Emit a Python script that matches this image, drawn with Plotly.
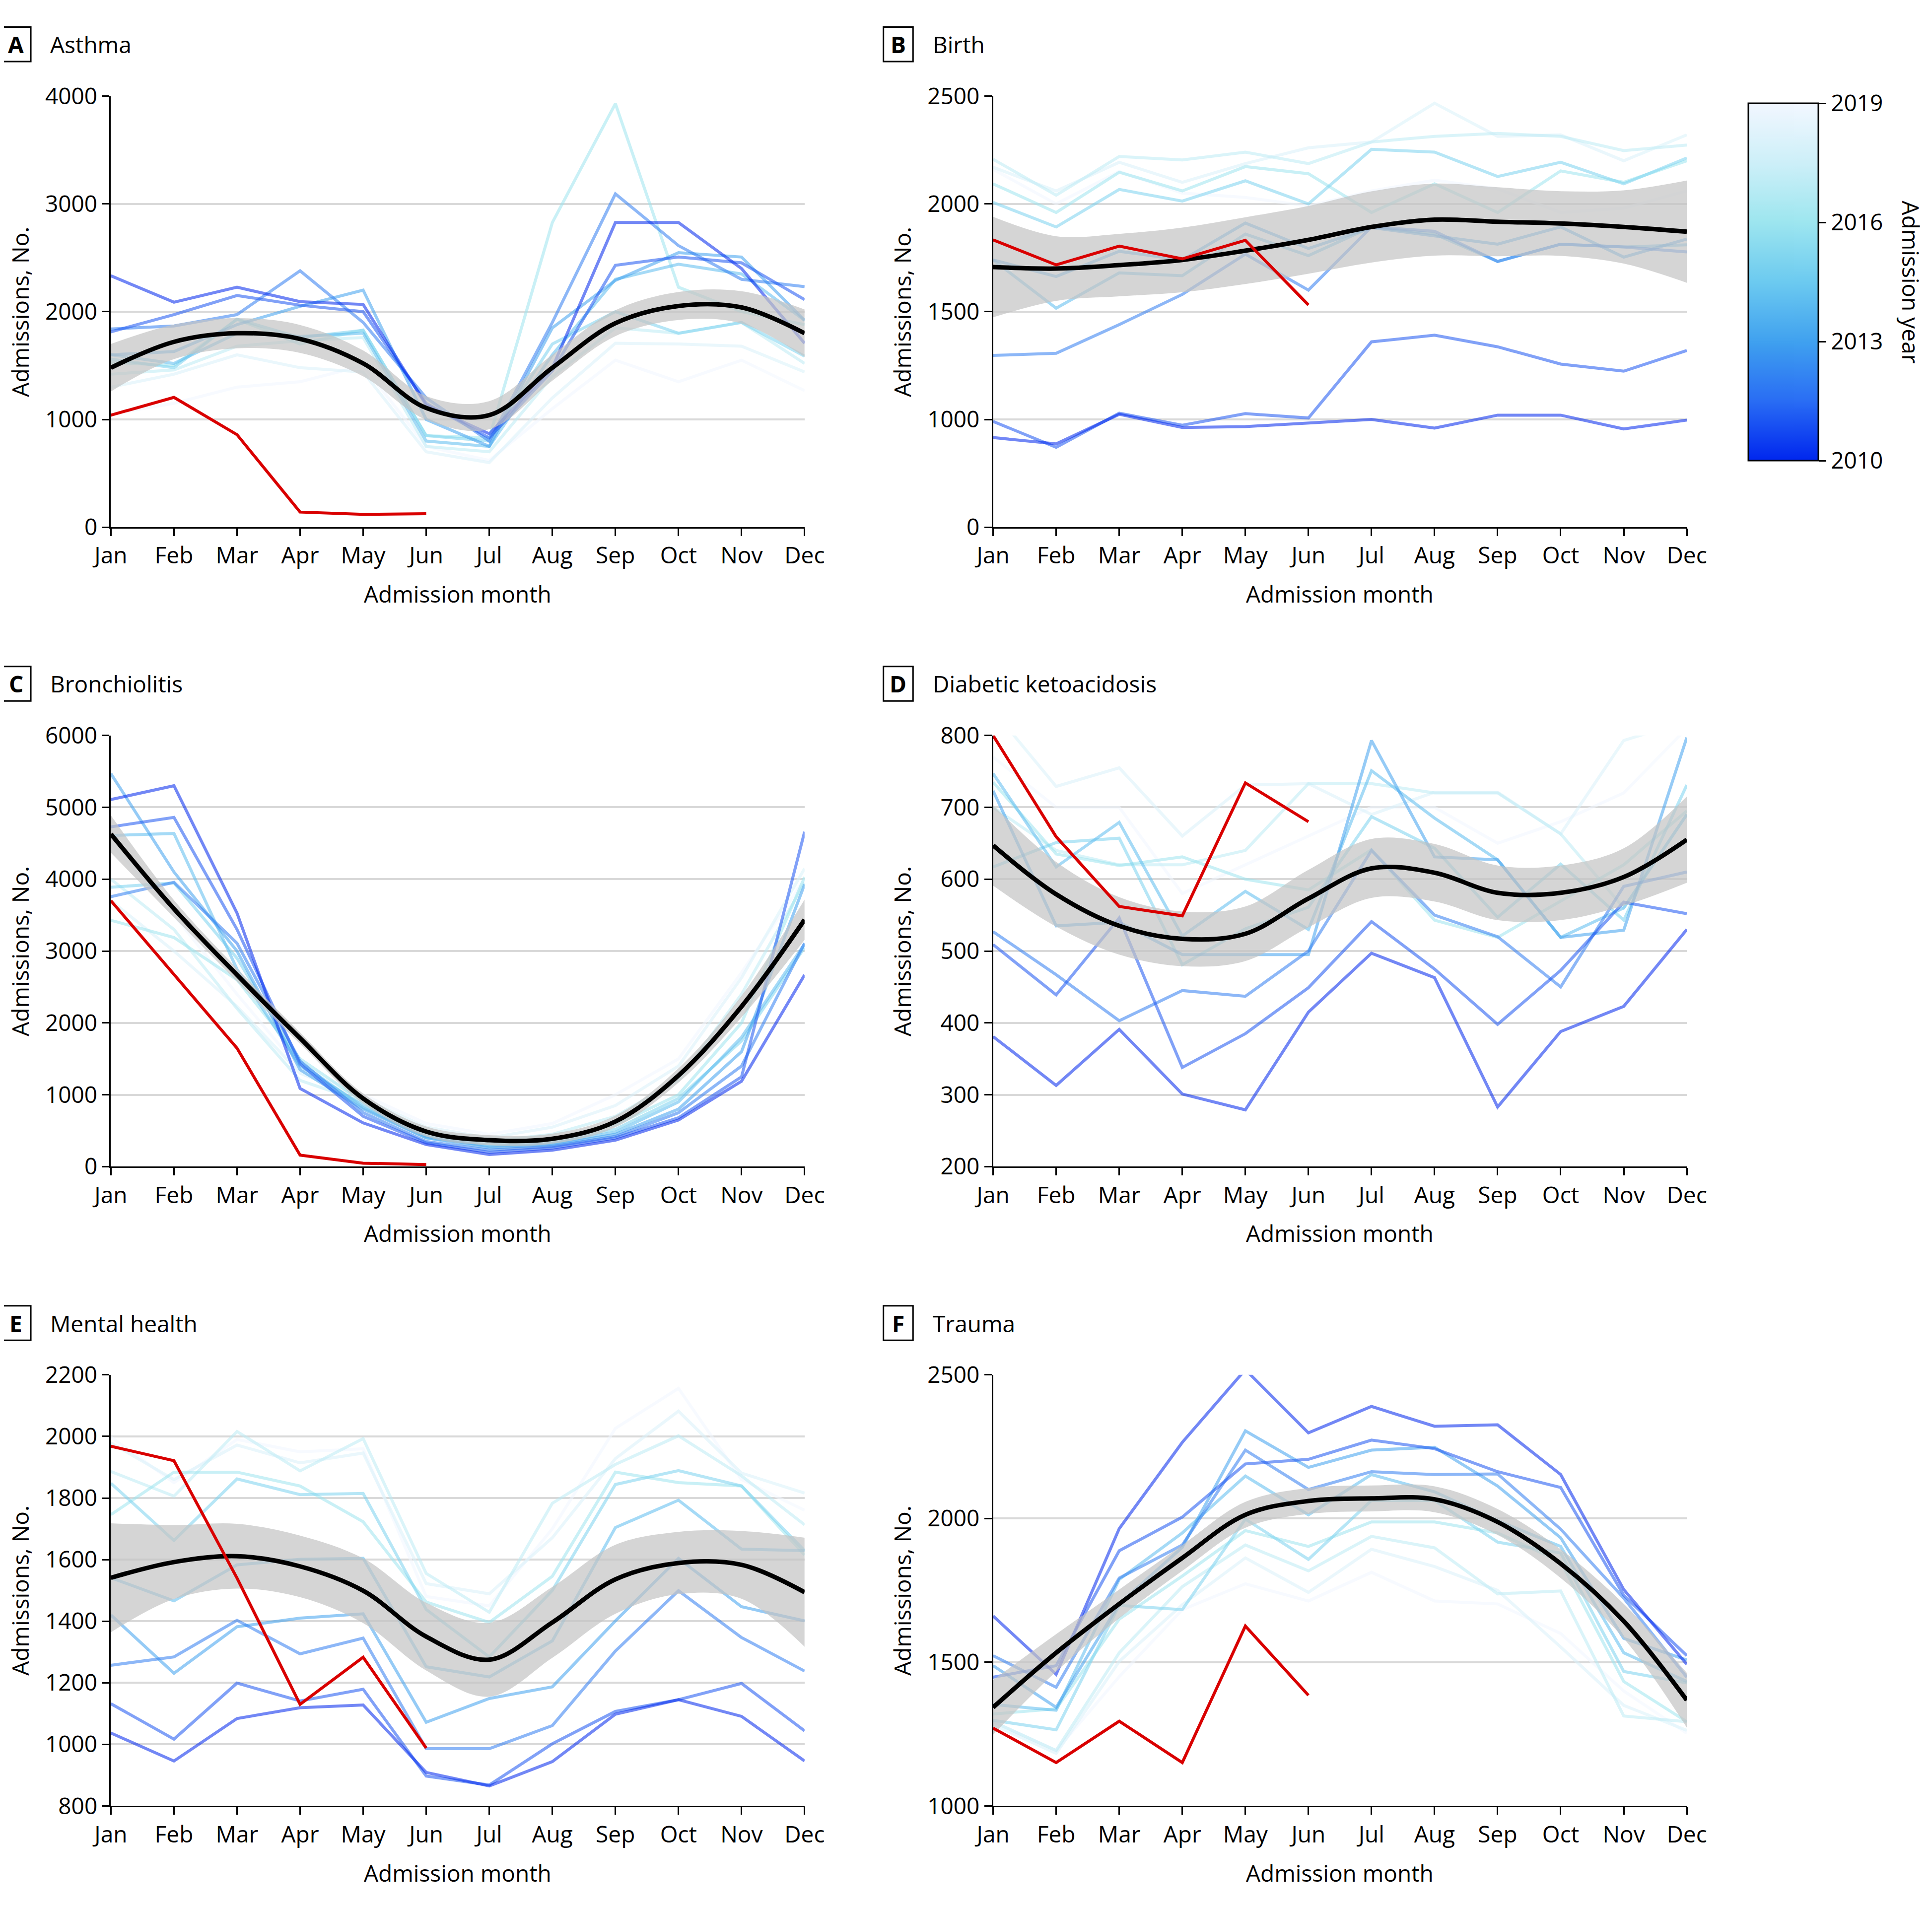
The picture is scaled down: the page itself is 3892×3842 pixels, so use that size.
import plotly.graph_objects as go
from plotly.colors import sample_colorscale

MONTHS = ["Jan", "Feb", "Mar", "Apr", "May", "Jun",
          "Jul", "Aug", "Sep", "Oct", "Nov", "Dec"]
MONTHS_2020 = MONTHS[:6]
YEARS = list(range(2010, 2020))

# --- A Asthma: one row per year 2010..2019
ASTHMA_YEARS = [
    [2333, 2088, 2227, 2093, 2067, 1133, 867, 1480, 2827, 2827, 2400, 1707],
    [1813, 1973, 2150, 2060, 2000, 1150, 830, 1450, 2430, 2507, 2453, 2112],
    [1840, 1867, 1973, 2379, 1900, 1200, 800, 1900, 3093, 2613, 2300, 2232],
    [1600, 1630, 1880, 2050, 2200, 1000, 750, 1850, 2290, 2547, 2507, 1920],
    [1600, 1520, 1800, 1770, 1800, 800, 750, 1600, 2300, 2440, 2350, 1920],
    [1560, 1480, 1930, 1760, 1827, 850, 800, 1700, 2000, 1800, 1900, 1587],
    [1530, 1500, 1930, 1700, 1830, 850, 830, 2827, 3930, 2227, 2000, 1880],
    [1420, 1460, 1680, 1730, 1760, 750, 700, 1400, 1850, 1800, 1900, 1520],
    [1300, 1420, 1600, 1480, 1440, 700, 600, 1200, 1707, 1700, 1680, 1440],
    [1050, 1150, 1300, 1350, 1500, 750, 620, 1100, 1550, 1350, 1550, 1267],
]
ASTHMA_2020 = [1040, 1205, 859, 141, 120, 125]
ASTHMA_MEAN = [1480, 1720, 1800, 1747, 1520, 1107, 1040, 1480, 1893, 2053, 2040, 1800]
ASTHMA_HALF = [220, 160, 140, 130, 120, 110, 130, 120, 120, 130, 150, 220]

# --- B Birth
BIRTH_YEARS = [
    [916, 887, 1024, 963, 967, 983, 1000, 960, 1020, 1020, 956, 997],
    [991, 871, 1029, 973, 1027, 1007, 1360, 1391, 1337, 1257, 1224, 1320],
    [1297, 1307, 1440, 1580, 1767, 1600, 1893, 1873, 1733, 1813, 1800, 1777],
    [1740, 1663, 1780, 1740, 1911, 1793, 1890, 1853, 1813, 1893, 1753, 1837],
    [1740, 1516, 1680, 1667, 1860, 1760, 1893, 1860, 1733, 1813, 1800, 1810],
    [2007, 1893, 2067, 2013, 2107, 2000, 2253, 2240, 2127, 2193, 2093, 2213],
    [2093, 1960, 2147, 2060, 2173, 2140, 1960, 2093, 1960, 2153, 2100, 2200],
    [2207, 2040, 2220, 2204, 2240, 2187, 2287, 2313, 2327, 2313, 2247, 2273],
    [2170, 2060, 2193, 2100, 2187, 2260, 2287, 2467, 2313, 2320, 2200, 2320],
    [2160, 2000, 2150, 2050, 2030, 1990, 2060, 2110, 2070, 1960, 1980, 2060],
]
BIRTH_2020 = [1833, 1717, 1804, 1745, 1831, 1531]
BIRTH_MEAN = [1707, 1700, 1716, 1740, 1783, 1833, 1893, 1927, 1917, 1909, 1893, 1871]
BIRTH_HALF = [233, 150, 145, 150, 155, 157, 165, 167, 160, 150, 170, 237]

# --- C Bronchiolitis
BRONCH_YEARS = [
    [5108, 5300, 3528, 1088, 608, 308, 168, 228, 368, 648, 1188, 2668],
    [4728, 4860, 3300, 1428, 700, 330, 200, 260, 400, 680, 1250, 4660],
    [3756, 3956, 3108, 1468, 750, 350, 230, 280, 420, 750, 1400, 3108],
    [5468, 4100, 3000, 1348, 800, 400, 260, 300, 450, 800, 1600, 3928],
    [4608, 4636, 2748, 1400, 850, 420, 280, 320, 480, 900, 1800, 3100],
    [3888, 3948, 2900, 1450, 820, 400, 300, 340, 520, 950, 1750, 3050],
    [3428, 3188, 2600, 1500, 900, 450, 330, 380, 580, 1000, 2000, 4028],
    [4000, 3300, 2200, 1200, 900, 500, 350, 450, 700, 1200, 2400, 3950],
    [3700, 3000, 2228, 1300, 950, 550, 400, 550, 850, 1400, 2628, 4148],
    [4500, 3500, 2400, 1350, 1000, 600, 450, 600, 1000, 1500, 2700, 4000],
]
BRONCH_2020 = [3700, 2668, 1648, 160, 48, 28]
BRONCH_MEAN = [4628, 3588, 2668, 1788, 948, 488, 368, 388, 628, 1268, 2228, 3436]
BRONCH_HALF = [260, 120, 90, 80, 70, 70, 70, 70, 80, 100, 150, 280]

# --- D Diabetic ketoacidosis
DKA_YEARS = [
    [381, 313, 391, 301, 279, 415, 497, 463, 283, 388, 423, 530],
    [509, 439, 546, 338, 385, 449, 541, 475, 398, 473, 568, 552],
    [527, 467, 403, 445, 437, 500, 640, 550, 520, 450, 590, 610],
    [723, 535, 540, 495, 495, 495, 793, 631, 627, 519, 529, 797],
    [747, 617, 679, 521, 583, 530, 751, 685, 627, 519, 560, 690],
    [617, 651, 657, 481, 531, 561, 687, 643, 547, 621, 543, 731],
    [735, 635, 619, 631, 600, 585, 641, 543, 519, 569, 620, 695],
    [700, 640, 620, 620, 640, 733, 733, 720, 720, 663, 560, 690],
    [835, 729, 755, 660, 731, 733, 690, 721, 721, 663, 793, 820],
    [770, 700, 700, 580, 620, 660, 700, 700, 650, 680, 720, 810],
]
DKA_2020 = [800, 659, 562, 549, 734, 680]
DKA_MEAN = [647, 579, 535, 517, 524, 573, 615, 609, 581, 581, 603, 655]
DKA_HALF = [56, 45, 40, 38, 38, 40, 41, 40, 38, 38, 40, 60]

# --- E Mental health
MENTAL_YEARS = [
    [1037, 946, 1084, 1119, 1128, 909, 865, 944, 1098, 1145, 1091, 946],
    [1132, 1017, 1199, 1141, 1179, 897, 868, 1002, 1107, 1145, 1198, 1044],
    [1257, 1284, 1403, 1294, 1345, 986, 986, 1061, 1303, 1499, 1347, 1238],
    [1420, 1231, 1382, 1410, 1424, 1072, 1149, 1187, 1401, 1604, 1447, 1401],
    [1541, 1466, 1583, 1601, 1604, 1252, 1219, 1336, 1704, 1793, 1634, 1629],
    [1848, 1662, 1862, 1811, 1815, 1438, 1284, 1500, 1844, 1889, 1839, 1629],
    [1746, 1884, 1884, 1839, 1723, 1462, 1396, 1546, 1884, 1850, 1839, 1615],
    [1886, 1806, 2016, 1888, 1993, 1555, 1429, 1783, 1909, 2002, 1872, 1713],
    [1979, 1860, 1972, 1914, 1946, 1522, 1489, 1671, 1928, 2082, 1881, 1816],
    [1998, 1850, 1990, 1950, 1960, 1480, 1450, 1700, 2026, 2156, 1860, 1760],
]
MENTAL_2020 = [1968, 1921, 1540, 1130, 1283, 988]
MENTAL_MEAN = [1541, 1592, 1611, 1578, 1499, 1350, 1275, 1396, 1536, 1589, 1583, 1494]
MENTAL_HALF = [177, 120, 105, 100, 105, 110, 120, 115, 112, 101, 110, 177]

# --- F Trauma
TRAUMA_YEARS = [
    [1661, 1458, 1965, 2265, 2518, 2298, 2390, 2321, 2326, 2153, 1753, 1493],
    [1448, 1488, 1888, 2005, 2190, 2206, 2273, 2243, 2163, 2108, 1733, 1523],
    [1523, 1413, 1793, 1908, 2238, 2101, 2163, 2153, 2155, 1963, 1723, 1448],
    [1488, 1343, 1703, 1900, 2305, 2178, 2238, 2248, 2113, 1933, 1583, 1508],
    [1353, 1333, 1788, 1950, 2148, 2013, 2153, 2093, 1993, 1903, 1533, 1433],
    [1298, 1265, 1698, 1683, 1998, 1858, 2063, 2063, 1918, 1880, 1468, 1428],
    [1320, 1338, 1650, 1800, 1958, 1903, 1988, 1988, 1950, 1850, 1433, 1293],
    [1293, 1193, 1533, 1763, 1908, 1818, 1938, 1898, 1738, 1748, 1313, 1293],
    [1283, 1183, 1503, 1700, 1863, 1743, 1893, 1833, 1750, 1553, 1350, 1263],
    [1293, 1193, 1450, 1683, 1773, 1713, 1813, 1713, 1703, 1600, 1400, 1253],
]
TRAUMA_2020 = [1271, 1151, 1295, 1151, 1626, 1385]
TRAUMA_MEAN = [1343, 1533, 1703, 1863, 2013, 2061, 2070, 2067, 1988, 1843, 1643, 1368]
TRAUMA_HALF = [95, 65, 50, 45, 45, 45, 45, 45, 45, 50, 60, 95]

COLORSCALE = [
    [0.0, "#0026ee"], [0.17, "#2a6ef4"], [0.33, "#3fa0ef"],
    [0.5, "#6ccaf0"], [0.67, "#9ee6ef"], [0.83, "#cceff8"], [1.0, "#f2f7ff"],
]

FONT = "Open Sans"
FS = 46
W, H = 3892, 3842
RW, RH = 1568.0, 1548.0   # reference layout units
SX, SY = W / RW, H / RH
OFF = 8                   # page margin of the browser, in px


def px(x):
    return (x * SX - OFF) / W


def py(y):
    return 1 - (y * SY - OFF) / H


panels = [
    ("A", "Asthma", ASTHMA_YEARS, ASTHMA_2020, ASTHMA_MEAN, ASTHMA_HALF,
     [0, 4000], [0, 1000, 2000, 3000, 4000], None, 0, 0),
    ("B", "Birth", BIRTH_YEARS, BIRTH_2020, BIRTH_MEAN, BIRTH_HALF,
     [500, 2500], [500, 1000, 1500, 2000, 2500], ["0", "1000", "1500", "2000", "2500"], 1, 0),
    ("C", "Bronchiolitis", BRONCH_YEARS, BRONCH_2020, BRONCH_MEAN, BRONCH_HALF,
     [0, 6000], [0, 1000, 2000, 3000, 4000, 5000, 6000], None, 0, 1),
    ("D", "Diabetic ketoacidosis", DKA_YEARS, DKA_2020, DKA_MEAN, DKA_HALF,
     [200, 800], [200, 300, 400, 500, 600, 700, 800], None, 1, 1),
    ("E", "Mental health", MENTAL_YEARS, MENTAL_2020, MENTAL_MEAN, MENTAL_HALF,
     [800, 2200], [800, 1000, 1200, 1400, 1600, 1800, 2000, 2200], None, 0, 2),
    ("F", "Trauma", TRAUMA_YEARS, TRAUMA_2020, TRAUMA_MEAN, TRAUMA_HALF,
     [1000, 2500], [1000, 1500, 2000, 2500], None, 1, 2),
]

COL_X = [(90, 653), (806, 1369)]
ROW_Y = [(78, 428), (597, 947), (1116, 1466)]

year_colors = sample_colorscale(COLORSCALE, [(y - 2010) / 9 for y in YEARS])

fig = go.Figure()
annotations = []
shapes = []
layout_axes = {}

for i, (letter, title, years, y2020, mean, half, yrange, yticks, yticktext, col, row) in enumerate(panels):
    n = "" if i == 0 else str(i + 1)
    xa, ya = "x" + n, "y" + n
    x0, x1 = COL_X[col]
    y0, y1 = ROW_Y[row]

    for k in reversed(range(len(YEARS))):
        fig.add_trace(go.Scatter(
            x=MONTHS, y=years[k], mode="lines", xaxis=xa, yaxis=ya,
            line=dict(color=year_colors[k], width=6), opacity=0.55,
            showlegend=False, hoverinfo="skip"))

    upper = [m + h for m, h in zip(mean, half)]
    lower = [m - h for m, h in zip(mean, half)]
    fig.add_trace(go.Scatter(
        x=MONTHS, y=upper, mode="lines", xaxis=xa, yaxis=ya,
        line=dict(width=0, shape="spline"), showlegend=False, hoverinfo="skip"))
    fig.add_trace(go.Scatter(
        x=MONTHS, y=lower, mode="lines", xaxis=xa, yaxis=ya, fill="tonexty",
        fillcolor="rgba(195,195,195,0.7)",
        line=dict(width=0, shape="spline"), showlegend=False, hoverinfo="skip"))
    fig.add_trace(go.Scatter(
        x=MONTHS, y=mean, mode="lines", xaxis=xa, yaxis=ya,
        line=dict(color="black", width=9, shape="spline"),
        showlegend=False, hoverinfo="skip"))
    fig.add_trace(go.Scatter(
        x=MONTHS_2020, y=y2020, mode="lines", xaxis=xa, yaxis=ya,
        line=dict(color="#d90000", width=6),
        showlegend=False, hoverinfo="skip"))

    layout_axes["xaxis" + n] = dict(
        domain=[px(x0), px(x1)], anchor=ya, type="category",
        categoryorder="array", categoryarray=MONTHS, range=[0, 11],
        showgrid=False, zeroline=False, showline=True, linecolor="black",
        linewidth=3, ticks="outside", ticklen=15, tickwidth=3, tickcolor="black",
        tickfont=dict(family=FONT, size=FS, color="black"), automargin=False)
    yax = dict(
        domain=[py(y1), py(y0)], anchor=xa, range=yrange, tickvals=yticks,
        showgrid=True, gridcolor="#d9d9d9", gridwidth=4, zeroline=False,
        showline=True, linecolor="black", linewidth=3, ticks="outside",
        ticklen=15, tickwidth=3, tickcolor="black",
        tickfont=dict(family=FONT, size=FS, color="black"), automargin=False)
    if yticktext:
        yax["ticktext"] = yticktext
    layout_axes["yaxis" + n] = yax

    bx = 0 if col == 0 else 716
    by = 22 + 519 * row
    shapes.append(dict(type="rect", xref="paper", yref="paper",
                       x0=px(bx + 1), x1=px(bx + 25), y0=py(by + 28), y1=py(by),
                       line=dict(color="black", width=3)))
    annotations.append(dict(text="<b>" + letter + "</b>", xref="paper", yref="paper",
                            x=px(bx + 13), y=py(by + 14), showarrow=False,
                            xanchor="center", yanchor="middle",
                            font=dict(family=FONT, size=FS, color="black")))
    annotations.append(dict(text=title, xref="paper", yref="paper",
                            x=px(bx + 40), y=py(by + 14), showarrow=False,
                            xanchor="left", yanchor="middle",
                            font=dict(family=FONT, size=FS, color="black")))
    annotations.append(dict(text="Admissions, No.", xref="paper", yref="paper",
                            x=px(bx + 16), y=py((y0 + y1) / 2), showarrow=False,
                            textangle=-90, xanchor="center", yanchor="middle",
                            font=dict(family=FONT, size=FS, color="black")))
    annotations.append(dict(text="Admission month", xref="paper", yref="paper",
                            x=px((x0 + x1) / 2), y=py(482 + 519 * row), showarrow=False,
                            xanchor="center", yanchor="middle",
                            font=dict(family=FONT, size=FS, color="black")))

# colour bar for admission year
fig.add_trace(go.Scatter(
    x=[None] * len(YEARS), y=[None] * len(YEARS), mode="markers",
    marker=dict(color=YEARS, cmin=2010, cmax=2019, colorscale=COLORSCALE,
                showscale=True,
                colorbar=dict(
                    x=px(1419), xanchor="left", y=py(229), yanchor="middle",
                    len=(374 - 84) / RH, lenmode="fraction",
                    thickness=(1476 - 1419) * SX, thicknessmode="pixels",
                    outlinewidth=3, outlinecolor="black",
                    tickvals=[2010, 2013, 2016, 2019], ticks="outside",
                    ticklen=15, tickwidth=3, tickcolor="black",
                    tickfont=dict(family=FONT, size=FS, color="black"),
                    xpad=0, ypad=0)),
    showlegend=False, hoverinfo="skip"))
annotations.append(dict(text="Admission year", xref="paper", yref="paper",
                        x=px(1551), y=py(229), showarrow=False, textangle=90,
                        xanchor="center", yanchor="middle",
                        font=dict(family=FONT, size=FS, color="black")))

fig.update_layout(
    width=W, height=H,
    margin=dict(l=0, r=0, t=0, b=0, pad=0, autoexpand=False),
    paper_bgcolor="white", plot_bgcolor="white",
    font=dict(family=FONT, size=FS, color="black"),
    showlegend=False,
    annotations=annotations, shapes=shapes,
    **layout_axes,
)

fig.write_html("out.html")
